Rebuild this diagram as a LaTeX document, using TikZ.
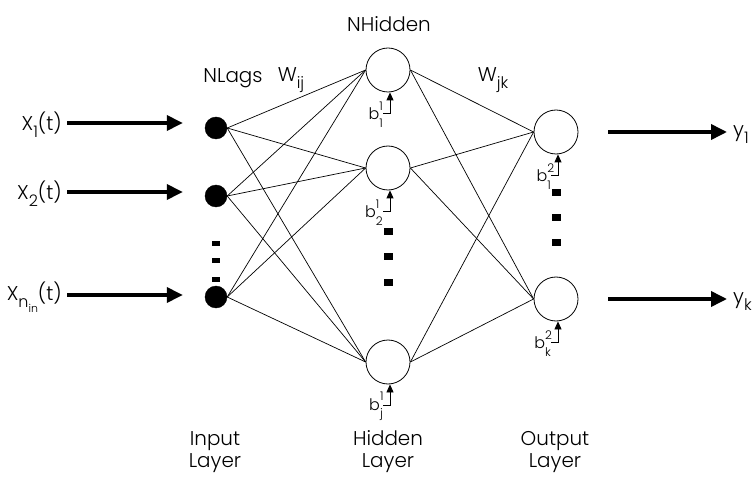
\documentclass[tikz,border=0pt]{standalone}
\usepackage{fontspec}
\setmainfont{Poppins Light}
\usetikzlibrary{positioning,arrows.meta,calc}
\tikzset{inode/.style={circle,fill=black,draw=black,minimum size=22bp,inner sep=0pt}}
\tikzset{hnode/.style={circle,draw=black,line width=0.8bp,minimum size=44bp,inner sep=0pt}}
\tikzset{link/.style={line width=0.7bp}}
\tikzset{feed/.style={-{Triangle[length=16bp,width=15bp]},line width=3.6bp}}
\tikzset{biasarrow/.style={-{Triangle[length=8bp,width=7bp]},line width=0.8bp}}
\tikzset{dot/.style={fill=black,minimum width=9bp,minimum height=6bp,inner sep=0pt}}
\tikzset{lbl/.style={font=\fontsize{20}{22}\selectfont,inner sep=0pt}}
\tikzset{blbl/.style={font=\fontsize{16}{18}\selectfont,inner sep=0pt}}
\newcommand{\bsym}[2]{b\rlap{\raisebox{0.6em}{\fontsize{12}{14}\selectfont#1}}\raisebox{-0.45em}{\fontsize{12}{14}\selectfont#2}}
\newcommand{\sub}[1]{\raisebox{-0.35em}{\fontsize{16}{18}\selectfont#1}}

\begin{document}
\begin{tikzpicture}[x=1bp,y=-1bp]
  \useasboundingbox (0,0) rectangle (752,489);
  % input layer
  \node[inode] (i1) at (216,128) {};
  \node[inode] (i2) at (216,196) {};
  \node[inode] (i3) at (216,297) {};
  % hidden layer
  \node[hnode] (h1) at (388,70) {};
  \node[hnode] (h2) at (388,168) {};
  \node[hnode] (h3) at (388,362) {};
  % output layer
  \node[hnode] (o1) at (556,132) {};
  \node[hnode] (o2) at (556,299) {};
  % weights
  \foreach \i in {1,2,3}
    \foreach \j in {1,2,3}
      \draw[link] (i\i.east) -- (h\j.west);
  \foreach \j in {1,2,3}
    \foreach \k in {1,2}
      \draw[link] (h\j.east) -- (o\k.west);
  % inputs
  \node[lbl,anchor=east] (x1) at (62,125) {X\sub{1}(t)};
  \node[lbl,anchor=east] (x2) at (62,194) {X\sub{2}(t)};
  \node[lbl,anchor=east] (x3) at (62,297) {X\sub{n\raisebox{-0.3em}{\fontsize{11}{12}\selectfont in}}(t)};
  \foreach \i in {1,2,3}
    \draw[feed] ([xshift=5bp,yshift=2bp]x\i.east) -- ([xshift=-22bp,yshift=2bp]x\i.east -| i\i.west);
  % outputs
  \node[lbl,anchor=west] (y1) at (733,135) {y\sub{1}};
  \node[lbl,anchor=west] (y2) at (733,302) {y\sub{k}};
  \draw[feed] ([xshift=30bp]o1.east) -- ([xshift=-6bp]y1.west |- o1.east);
  \draw[feed] ([xshift=30bp]o2.east) -- ([xshift=-6bp]y2.west |- o2.east);
  % biases
  \foreach \n/\s/\b in {h1/1/1,h2/1/2,h3/1/j,o1/2/1,o2/2/k}{
    \coordinate (c\n) at ([xshift=2bp,yshift=-21bp]\n.south);
    \draw[biasarrow] ([xshift=-7bp]c\n) -- (c\n) -- (c\n |- \n.south);
    \node[blbl,anchor=east] at ([xshift=-7bp,yshift=-1bp]c\n) {\bsym{\s}{\b}};
  }
  % dots
  \foreach \y in {244,261,279}
    \node[dot,minimum width=8bp,minimum height=5bp] at (216,\y) {};
  \foreach \y in {232,257,282}
    \node[dot,minimum height=7bp] at (388,\y) {};
  \foreach \y in {193,218,243}
    \node[dot,minimum height=7bp] at (556,\y) {};
  % labels
  \node[lbl] (nlags) at (233,78) {NLags};
  \node[lbl] (wij) at (291,80) {W\sub{ij}};
  \node[lbl] (nhid) at (389,24) {NHidden};
  \node[lbl] (wjk) at (493,80) {W\sub{jk}};
  \node[lbl,align=center] (il) at (215,452) {Input\\Layer};
  \node[lbl,align=center] (hl) at (388,452) {Hidden\\Layer};
  \node[lbl,align=center] (ol) at (555,452) {Output\\Layer};
\end{tikzpicture}
\end{document}
